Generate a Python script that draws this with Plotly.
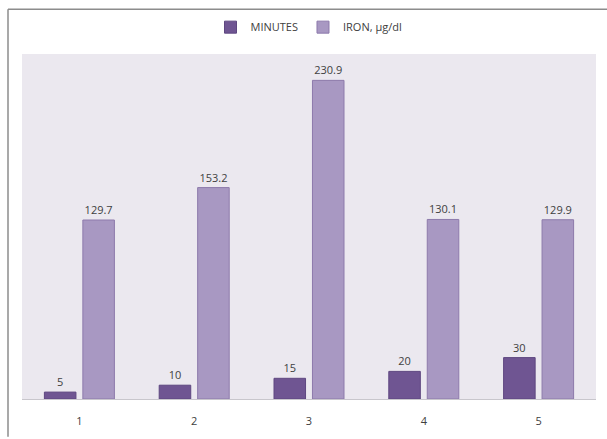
import plotly.graph_objects as go

categories = ["1", "2", "3", "4", "5"]
minutes = [5, 10, 15, 20, 30]
iron = [129.7, 153.2, 230.9, 130.1, 129.9]

W, H = 607, 439
ml, mr, mt, mb = 22, 11, 54, 38

fig = go.Figure()
fig.add_trace(go.Bar(
    x=categories, y=minutes, name="MINUTES",
    marker=dict(color="#6f5592", line=dict(color="#5e4780", width=1)),
    text=[str(v) for v in minutes], textposition="outside",
    textfont=dict(size=11, color="#404040"), cliponaxis=False,
))
fig.add_trace(go.Bar(
    x=categories, y=iron, name="IRON, µg/dl",
    marker=dict(color="#a898c2", line=dict(color="#8d7aab", width=1)),
    text=[f"{v:.1f}" for v in iron], textposition="outside",
    textfont=dict(size=11, color="#404040"), cliponaxis=False,
))

pw = W - ml - mr
ph = H - mt - mb
fig.update_layout(
    width=W, height=H,
    margin=dict(l=ml, r=mr, t=mt, b=mb),
    paper_bgcolor="white",
    plot_bgcolor="#ebe8ef",
    font=dict(family="Open Sans, Liberation Sans, sans-serif", size=11, color="#404040"),
    barmode="group", bargap=0.33, bargroupgap=0.18,
    showlegend=True,
    legend=dict(orientation="h", x=0.5, xanchor="center", y=1 + 27/ph, yanchor="middle",
                font=dict(size=11, color="#404040"), itemwidth=30, traceorder="normal"),
    xaxis=dict(showgrid=False, showline=True, linecolor="#c8c6cc", linewidth=1,
               ticks="", tickfont=dict(size=11, color="#404040"), ticklabelstandoff=12),
    yaxis=dict(range=[0, 250], showgrid=False, showticklabels=False, zeroline=False,
               showline=False, ticks=""),
    uniformtext=dict(mode=False),
    shapes=[
        dict(type="line", xref="paper", yref="paper",
             x0=(8 - ml) / pw, x1=(W - ml) / pw, y0=(H - mb - 9) / ph, y1=(H - mb - 9) / ph,
             line=dict(color="#8c8c8c", width=1.5)),
        dict(type="line", xref="paper", yref="paper",
             x0=(8 - ml) / pw, x1=(8 - ml) / pw, y0=(H - mb - 9) / ph, y1=-mb / ph,
             line=dict(color="#8c8c8c", width=1.5)),
    ],
)

fig.write_html("out.html")
